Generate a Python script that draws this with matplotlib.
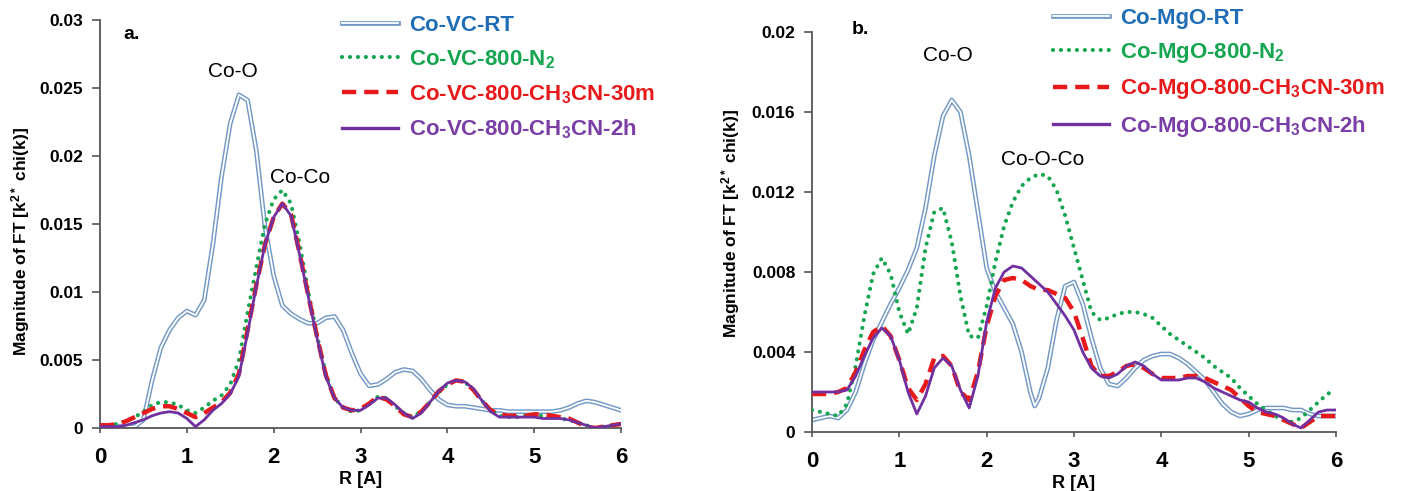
import matplotlib
matplotlib.use("Agg")
import matplotlib.pyplot as plt
import matplotlib.patheffects as pe
from matplotlib.lines import Line2D

plt.rcParams['font.family'] = ['Liberation Sans', 'DejaVu Sans']
plt.rcParams['font.weight'] = 'bold'
plt.rcParams['mathtext.fontset'] = 'custom'
plt.rcParams['mathtext.rm'] = 'Liberation Sans:bold'
plt.rcParams['mathtext.it'] = 'Liberation Sans:bold'
plt.rcParams['mathtext.bf'] = 'Liberation Sans:bold'
plt.rcParams['mathtext.default'] = 'rm'

# ---------------- data ----------------
R = [round(0.1 * i, 1) for i in range(61)]

a_labels = ['Co-VC-RT', 'Co-VC-800-N$_2$', 'Co-VC-800-CH$_3$CN-30m', 'Co-VC-800-CH$_3$CN-2h']
b_labels = ['Co-MgO-RT', 'Co-MgO-800-N$_2$', 'Co-MgO-800-CH$_3$CN-30m', 'Co-MgO-800-CH$_3$CN-2h']

a_RT = [0.0002, 0.0002, 0.0001, 0.0001, 0.0001, 0.0006, 0.0035, 0.0059, 0.0072, 0.0081,
        0.0086, 0.0083, 0.0094, 0.0135, 0.0185, 0.0224, 0.0245, 0.0241, 0.0204, 0.0148,
        0.0112, 0.0090, 0.0084, 0.0080, 0.0077, 0.0077, 0.0081, 0.0082, 0.0072, 0.0055,
        0.0040, 0.0031, 0.0032, 0.0036, 0.0041, 0.0043, 0.0042, 0.0036, 0.0028, 0.0021,
        0.0017, 0.0016, 0.0016, 0.0015, 0.0014, 0.0013, 0.0013, 0.0012, 0.0012, 0.0012,
        0.0012, 0.0012, 0.0012, 0.0013, 0.0015, 0.0018, 0.0020, 0.0019, 0.0017, 0.0015,
        0.0013]
a_N2 = [0.0002, 0.0002, 0.0003, 0.0005, 0.0008, 0.0012, 0.0017, 0.0019, 0.0019, 0.0017,
        0.0013, 0.0011, 0.0015, 0.0020, 0.0024, 0.0032, 0.0050, 0.0085, 0.0118, 0.0150,
        0.0168, 0.0175, 0.0165, 0.0135, 0.0100, 0.0068, 0.0040, 0.0022, 0.0015, 0.0012,
        0.0013, 0.0018, 0.0023, 0.0022, 0.0016, 0.0011, 0.0008, 0.0012, 0.0019, 0.0026,
        0.0032, 0.0035, 0.0034, 0.0028, 0.0020, 0.0013, 0.0009, 0.0008, 0.0008, 0.0009,
        0.0009, 0.0009, 0.0008, 0.0007, 0.0006, 0.0004, 0.0002, 0.0000, 0.0001, 0.0002,
        0.0003]
a_30m = [0.0002, 0.0002, 0.0003, 0.0005, 0.0008, 0.0011, 0.0014, 0.0016, 0.0016, 0.0014,
         0.0011, 0.0008, 0.0011, 0.0015, 0.0019, 0.0026, 0.0040, 0.0072, 0.0105, 0.0135,
         0.0155, 0.0165, 0.0157, 0.0128, 0.0097, 0.0067, 0.0039, 0.0022, 0.0015, 0.0013,
         0.0014, 0.0018, 0.0023, 0.0021, 0.0016, 0.0010, 0.0008, 0.0012, 0.0019, 0.0027,
         0.0032, 0.0035, 0.0034, 0.0028, 0.0020, 0.0013, 0.0010, 0.0009, 0.0009, 0.0009,
         0.0010, 0.0010, 0.0009, 0.0008, 0.0007, 0.0004, 0.0001, 0.0000, 0.0001, 0.0002,
         0.0003]
a_2h = [0.0001, 0.0001, 0.0001, 0.0002, 0.0004, 0.0006, 0.0009, 0.0011, 0.0012, 0.0011,
        0.0007, 0.0001, 0.0006, 0.0013, 0.0018, 0.0025, 0.0038, 0.0070, 0.0104, 0.0135,
        0.0155, 0.0165, 0.0156, 0.0127, 0.0096, 0.0066, 0.0038, 0.0022, 0.0015, 0.0013,
        0.0013, 0.0017, 0.0022, 0.0022, 0.0017, 0.0011, 0.0007, 0.0011, 0.0019, 0.0027,
        0.0033, 0.0035, 0.0034, 0.0029, 0.0020, 0.0012, 0.0008, 0.0008, 0.0008, 0.0008,
        0.0008, 0.0007, 0.0007, 0.0007, 0.0006, 0.0004, 0.0002, 0.0000, 0.0001, 0.0002,
        0.0003]

b_RT_R = R[:26] + [2.55] + R[26:]
b_RT = [0.0006, 0.0007, 0.0008, 0.0007, 0.0011, 0.0020, 0.0034, 0.0046, 0.0055, 0.0064,
        0.0072, 0.0081, 0.0092, 0.0112, 0.0138, 0.0158, 0.0166, 0.0160, 0.0138, 0.0110,
        0.0082, 0.0070, 0.0062, 0.0054, 0.0040, 0.0020, 0.0013,
        0.0017, 0.0032, 0.0056, 0.0073, 0.0075, 0.0064, 0.0047, 0.0032, 0.0024,
        0.0023, 0.0027, 0.0032, 0.0036, 0.0038, 0.0039, 0.0039, 0.0037, 0.0034, 0.0030,
        0.0026, 0.0020, 0.0014, 0.0010, 0.0008, 0.0009, 0.0011, 0.0012, 0.0012, 0.0012,
        0.0011, 0.0011, 0.0009, 0.0008, 0.0008, 0.0008]
b_N2 = [0.0011, 0.0010, 0.0009, 0.0008, 0.0014, 0.0033, 0.0058, 0.0079, 0.0087, 0.0079,
        0.0060, 0.0049, 0.0062, 0.0092, 0.0110, 0.0112, 0.0095, 0.0068, 0.0048, 0.0047,
        0.0063, 0.0085, 0.0103, 0.0115, 0.0123, 0.0127, 0.0129, 0.0128, 0.0121, 0.0108,
        0.0092, 0.0076, 0.0060, 0.0056, 0.0057, 0.0059, 0.0060, 0.0060, 0.0059, 0.0057,
        0.0053, 0.0049, 0.0046, 0.0043, 0.0040, 0.0037, 0.0033, 0.0030, 0.0027, 0.0022,
        0.0018, 0.0014, 0.0011, 0.0008, 0.0006, 0.0005, 0.0007, 0.0011, 0.0015, 0.0019,
        0.0021]
b_30m = [0.0019, 0.0019, 0.0019, 0.0020, 0.0022, 0.0030, 0.0041, 0.0050, 0.0053, 0.0048,
         0.0036, 0.0022, 0.0016, 0.0024, 0.0037, 0.0038, 0.0033, 0.0020, 0.0016, 0.0030,
         0.0053, 0.0068, 0.0076, 0.0077, 0.0076, 0.0073, 0.0071, 0.0071, 0.0069, 0.0067,
         0.0060, 0.0047, 0.0033, 0.0028, 0.0028, 0.0030, 0.0033, 0.0034, 0.0032, 0.0029,
         0.0027, 0.0027, 0.0027, 0.0028, 0.0028, 0.0027, 0.0025, 0.0023, 0.0021, 0.0017,
         0.0013, 0.0010, 0.0009, 0.0008, 0.0006, 0.0004, 0.0002, 0.0005, 0.0008, 0.0008,
         0.0008]
b_2h = [0.0020, 0.0020, 0.0020, 0.0020, 0.0021, 0.0028, 0.0038, 0.0047, 0.0052, 0.0048,
        0.0036, 0.0020, 0.0009, 0.0018, 0.0032, 0.0037, 0.0033, 0.0021, 0.0012, 0.0028,
        0.0055, 0.0072, 0.0080, 0.0083, 0.0082, 0.0078, 0.0074, 0.0070, 0.0064, 0.0058,
        0.0051, 0.0040, 0.0032, 0.0028, 0.0027, 0.0029, 0.0033, 0.0035, 0.0033, 0.0029,
        0.0026, 0.0026, 0.0026, 0.0027, 0.0027, 0.0025, 0.0022, 0.0020, 0.0018, 0.0016,
        0.0015, 0.0012, 0.0010, 0.0009, 0.0007, 0.0004, 0.0002, 0.0006, 0.0010, 0.0011,
        0.0011]

a_yticks = [0, 0.005, 0.01, 0.015, 0.02, 0.025, 0.03]
a_yticklabels = ['0', '0.005', '0.01', '0.015', '0.02', '0.025', '0.03']
b_yticks = [0, 0.004, 0.008, 0.012, 0.016, 0.02]
b_yticklabels = ['0', '0.004', '0.008', '0.012', '0.016', '0.02']
xticks = [0, 1, 2, 3, 4, 5, 6]

# ---------------- styles ----------------
C_RT_LINE = '#7399c6'
C_RT_TXT = '#1f6db5'
C_N2 = '#16a550'
C_RED = '#e8191b'
C_PUR = '#7030a0'
C_PUR_TXT = '#7a3fa6'
SPINE = '#555555'

rt_effects = [pe.Stroke(linewidth=3.4, foreground=C_RT_LINE), pe.Normal()]


def draw(ax, x_rt, y_rt, y_n2, y_30, y_2h):
    ax.plot(x_rt, y_rt, color='white', lw=1.3, path_effects=rt_effects, zorder=2)
    ax.plot(R, y_n2, color=C_N2, lw=3.0, linestyle=(0, (0.01, 1.9)),
            dash_capstyle='round', zorder=3)
    ax.plot(R, y_30, color=C_RED, lw=3.2, linestyle=(0, (3.2, 1.8)),
            dash_capstyle='butt', zorder=4)
    ax.plot(R, y_2h, color=C_PUR, lw=2.0, zorder=5)


def style(ax, yticks, yticklabels, ymax, label_xy):
    ax.set_xlim(0, 6)
    ax.set_ylim(0, ymax)
    ax.set_xticks(xticks)
    ax.set_xticklabels([str(t) for t in xticks])
    ax.set_yticks(yticks)
    ax.set_yticklabels(yticklabels)
    for s in ['top', 'right']:
        ax.spines[s].set_visible(False)
    for s in ['left', 'bottom']:
        ax.spines[s].set_color(SPINE)
        ax.spines[s].set_linewidth(1.3)
    ax.tick_params(axis='y', direction='out', length=6, width=1.2, color=SPINE,
                   labelsize=12.5, pad=6)
    ax.tick_params(axis='x', direction='out', length=3.5, width=1.2, color=SPINE,
                   labelsize=16, pad=10)
    ax.set_xlabel('R [A]', fontsize=13, fontweight='bold', labelpad=2.5)
    ax.set_ylabel('Magnitude of FT [k$^{2*}$ chi(k)]', fontsize=12.5, fontweight='bold')
    ax.yaxis.set_label_coords(*label_xy)


def legend(ax, labels, anchor, fig):
    handles = [
        Line2D([], [], color='white', lw=1.3, path_effects=rt_effects),
        Line2D([], [], color=C_N2, lw=3.0, linestyle=(0, (0.01, 1.9)), dash_capstyle='round'),
        Line2D([], [], color=C_RED, lw=3.2, linestyle=(0, (3.2, 1.8)), dash_capstyle='butt'),
        Line2D([], [], color=C_PUR, lw=2.4),
    ]
    leg = ax.legend(handles, labels, loc='upper left', bbox_to_anchor=anchor,
                    bbox_transform=fig.transFigure, frameon=False, fontsize=16,
                    handlelength=2.5, handletextpad=0.5, labelspacing=0.55,
                    borderaxespad=0, borderpad=0)
    for t, c in zip(leg.get_texts(), [C_RT_TXT, C_N2, C_RED, C_PUR_TXT]):
        t.set_color(c)
        t.set_fontweight('bold')
    return leg


fig = plt.figure(figsize=(14.01, 4.91), dpi=100)
ax_a = fig.add_axes([100 / 1401, 63 / 491, 521 / 1401, 408 / 491])
ax_b = fig.add_axes([812 / 1401, 59 / 491, 524 / 1401, 400 / 491])

draw(ax_a, R, a_RT, a_N2, a_30m, a_2h)
style(ax_a, a_yticks, a_yticklabels, 0.03, (-0.1305, 0.458))
draw(ax_b, b_RT_R, b_RT, b_N2, b_30m, b_2h)
style(ax_b, b_yticks, b_yticklabels, 0.02, (-0.1336, 0.52))

ax_a.text(0.27, 0.0289, 'a.', fontsize=14, fontweight='bold', ha='left', va='center')
ax_a.text(1.53, 0.0262, 'Co-O', fontsize=15, fontweight='normal', ha='center', va='center')
ax_a.text(2.3, 0.0184, 'Co-Co', fontsize=15, fontweight='normal', ha='center', va='center')

ax_b.text(0.45, 0.0201, 'b.', fontsize=14, fontweight='bold', ha='left', va='center')
ax_b.text(1.56, 0.0188, 'Co-O', fontsize=15, fontweight='normal', ha='center', va='center')
ax_b.text(2.64, 0.0136, 'Co-O-Co', fontsize=15, fontweight='normal', ha='center', va='center')

legend(ax_a, a_labels, (342 / 1401, 1 - 15 / 491), fig)
legend(ax_b, b_labels, (1053 / 1401, 1 - 8 / 491), fig)

fig.savefig('out.png', dpi=100, facecolor='white')
